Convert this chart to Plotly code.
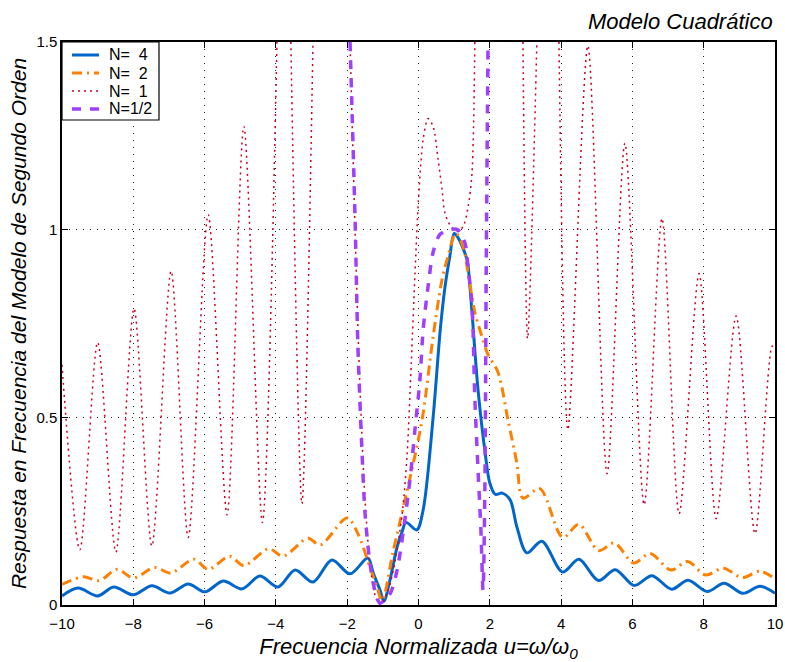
import plotly.graph_objects as go

# Normalised frequency u = w/w0 and responses for each model order N.
u_n4 = [-10, -9.55, -9.0, -8.55, -8.0, -7.48, -6.97, -6.46, -5.99, -5.48, -4.95, -4.45,
        -3.94, -3.46, -2.96, -2.43, -1.92, -1.42, -1.27, -1.08, -0.97, -0.8, -0.6, -0.46,
        -0.35, -0.05, 0.13, 0.41, 0.61, 0.74, 0.88, 1.0, 1.1, 1.36, 1.44, 1.5, 1.67, 1.87,
        2.0, 2.15, 2.35, 2.57, 2.76, 3.04, 3.46, 4.04, 4.5, 5.05, 5.52, 6.05, 6.55, 7.1,
        7.56, 8.1, 8.57, 9.1, 9.58, 10]
h_n4 = [0.024, 0.045, 0.024, 0.048, 0.027, 0.051, 0.032, 0.056, 0.035, 0.064, 0.043, 0.077,
        0.048, 0.093, 0.061, 0.12, 0.083, 0.125, 0.085, 0.04, 0.01, 0.067, 0.155, 0.195,
        0.22, 0.2, 0.253, 0.5, 0.733, 0.845, 0.93, 0.99, 0.98, 0.92, 0.85, 0.78, 0.573, 0.405,
        0.325, 0.295, 0.298, 0.28, 0.208, 0.139, 0.17, 0.088, 0.122, 0.065, 0.094, 0.052, 0.078, 0.042,
        0.066, 0.036, 0.058, 0.031, 0.05, 0.031]

u_n2 = [-10, -9.4, -8.95, -8.45, -8.0, -7.4, -6.95, -6.3, -5.9, -5.3, -4.9, -4.2, -3.8,
        -3.1, -2.76, -2.0, -1.7, -1.36, -1.17, -1.02, -0.72, -0.33, -0.05, 0.13, 0.41, 0.66,
        0.8, 1.05, 1.25, 1.39, 1.58, 1.78, 1.95, 2.23, 2.51, 2.76, 2.93, 3.4, 4.05, 4.5,
        5.05, 5.5, 6.03, 6.5, 7.08, 7.55, 8.05, 8.55, 9.08, 9.58, 10]
h_n2 = [0.055, 0.075, 0.065, 0.095, 0.072, 0.1, 0.085, 0.122, 0.095, 0.13, 0.105, 0.15, 0.13,
        0.178, 0.16, 0.232, 0.19, 0.1, 0.05, 0.012, 0.139, 0.3, 0.42, 0.51, 0.715, 0.867,
        0.92, 0.99, 0.955, 0.885, 0.78, 0.715, 0.667, 0.62, 0.493, 0.378, 0.285, 0.31, 0.18, 0.215,
        0.145, 0.165, 0.112, 0.137, 0.093, 0.116, 0.08, 0.098, 0.073, 0.09, 0.07]

u_n1 = [-10, -9.5, -9.0, -8.49, -7.98, -7.48, -6.94, -6.46, -5.9, -5.37, -4.9, -4.38, -3.97, None,
        -3.58, -3.27, -2.96, None,
        -1.92, -1.78, -1.65, -1.5, -1.35, -1.2, -1.07, -0.85, -0.65, -0.45, -0.32, -0.2, -0.1,
        0.0, 0.13, 0.27, 0.41, 0.55, 0.66, 0.74, 0.88, 1.08, 1.25, 1.39, 1.5, 1.58, None,
        2.93, 3.06, 3.32, None,
        3.94, 4.19, 4.75, 5.29, 5.79, 6.33, 6.83, 7.31, 7.87, 8.35, 8.91, 9.44, 9.92, 10]
h_n1 = [0.64, 0.147, 0.70, 0.141, 0.79, 0.157, 0.89, 0.18, 1.04, 0.24, 1.275, 0.22, 1.5, None,
        1.5, 0.27, 1.5, None,
        1.5, 1.0, 0.6, 0.28, 0.1, 0.02, 0.0, 0.04, 0.12, 0.25, 0.4, 0.65, 0.88,
        1.08, 1.24, 1.296, 1.275, 1.187, 1.107, 1.045, 1.013, 0.995, 1.008, 1.06, 1.15, 1.5, None,
        1.5, 0.71, 1.5, None,
        1.5, 0.467, 1.49, 0.35, 1.23, 0.267, 1.03, 0.243, 0.883, 0.23, 0.77, 0.19, 0.69, 0.68]

u_nh = [-1.92, -1.78, -1.7, -1.59, -1.5, -1.36, -1.2, -1.08, -0.8, -0.6, -0.24, -0.1, 0.04,
        0.13, 0.27, 0.41, 0.6, 0.88, 1.1, 1.3, 1.39, 1.5, 1.58, 1.67, 1.75, 1.81, 1.86, 1.9, 1.95]
h_nh = [1.5, 1.03, 0.69, 0.42, 0.245, 0.11, 0.03, 0.005, 0.03, 0.093, 0.333, 0.467, 0.6,
        0.733, 0.85, 0.94, 0.987, 1.0, 1.0, 0.965, 0.9, 0.8, 0.55, 0.36, 0.2, 0.04, 0.3, 0.9, 1.5]

series_names = ["N=  4", "N=  2", "N=  1", "N=1/2"]
x_ticks = [-10, -8, -6, -4, -2, 0, 2, 4, 6, 8, 10]
y_ticks = [0, 0.5, 1, 1.5]
y_tick_text = ["0", "0.5", "1", "1.5"]

FONT = "Liberation Sans, Arial, Helvetica, sans-serif"
styles = [
    dict(color="#0066cc", width=3, dash="solid"),
    dict(color="#ff8000", width=3, dash="10px,5px,2px,5px"),
    dict(color="#cc0022", width=1.5, dash="2px,4px"),
    dict(color="#a040ff", width=3.5, dash="9px,9px"),
]

fig = go.Figure()
for (ux, hy), name, st, sm in zip([(u_n4, h_n4), (u_n2, h_n2), (u_n1, h_n1), (u_nh, h_nh)],
                                  series_names, styles, [0.9, 0.9, 0.8, 0.8]):
    fig.add_trace(go.Scatter(x=ux, y=hy, name=name, mode="lines", showlegend=False,
                             line=dict(shape="spline", smoothing=sm, **st)))

axis_common = dict(showline=True, linecolor="black", linewidth=1.5, mirror="ticks",
                   ticks="inside", ticklen=6, tickcolor="black", automargin=False,
                   showgrid=True, gridcolor="#222222", griddash="1px,6px", gridwidth=1,
                   zeroline=False, tickfont=dict(family=FONT, size=15, color="black"))

fig.update_xaxes(range=[-10, 10], tickvals=x_ticks, ticklabelstandoff=4, **axis_common,
                 title=dict(text="Frecuencia Normalizada u=ω/ω<sub>0</sub>",
                            font=dict(family=FONT, size=22, color="black", style="italic"),
                            standoff=10))
fig.update_yaxes(range=[0, 1.5], tickvals=y_ticks, ticktext=y_tick_text, **axis_common,
                 title=dict(text="Respuesta en Frecuencia del Modelo de Segundo Orden",
                            font=dict(family=FONT, size=21, color="black", style="italic"),
                            standoff=4))

fig.add_annotation(text="Modelo Cuadrático", xref="paper", yref="paper", x=1, y=1,
                   xanchor="right", yanchor="bottom", yshift=6, showarrow=False,
                   font=dict(family=FONT, size=22, color="black", style="italic"))

# Legend box drawn in the upper-left corner of the axes (pixel offsets from the corner)
PLOT_W, PLOT_H = 713, 563
def px(dx):
    return dx / PLOT_W
def py(dy):
    return 1 - dy / PLOT_H

fig.add_shape(type="rect", xref="paper", yref="paper", x0=px(0), x1=px(97), y0=py(78), y1=py(0),
              line=dict(color="black", width=1.2), fillcolor="white", layer="above")
for i, (name, st) in enumerate(zip(series_names, styles)):
    yy = py(13 + 18 * i)
    fig.add_shape(type="line", xref="paper", yref="paper", x0=px(10), x1=px(37), y0=yy, y1=yy,
                  line=st, layer="above")
    fig.add_annotation(text=name, xref="paper", yref="paper", x=px(45), y=yy, xanchor="left",
                       yanchor="middle", showarrow=False,
                       font=dict(family=FONT, size=16, color="black"))

fig.update_layout(width=785, height=662, margin=dict(l=62, r=10, t=42, b=57),
                  plot_bgcolor="white", paper_bgcolor="white", showlegend=False)

fig.write_html("out.html")
